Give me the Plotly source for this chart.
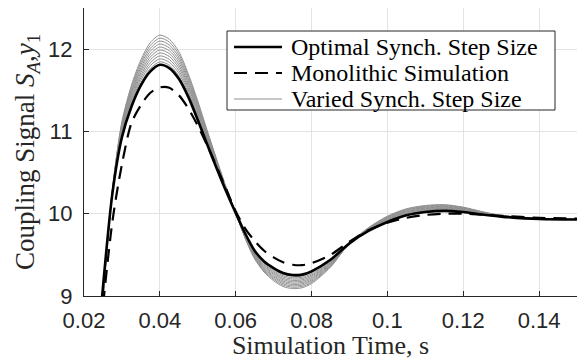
import plotly.graph_objects as go

# Sample instants (s)
time_s = [0.0245, 0.0275, 0.03, 0.0325, 0.035, 0.0375, 0.04, 0.0425, 0.045, 0.0475,
          0.05, 0.0525, 0.055, 0.0575, 0.06, 0.0625, 0.065, 0.0675, 0.07, 0.0725,
          0.075, 0.0775, 0.08, 0.085, 0.09, 0.095, 0.1, 0.105, 0.11, 0.115,
          0.12, 0.125, 0.13, 0.14, 0.15]

# Co-simulation with the optimal synchronisation step size
optimal_step = [8.85, 10.25, 10.93, 11.30, 11.56, 11.73, 11.81, 11.77, 11.64, 11.42,
                11.14, 10.84, 10.55, 10.27, 10.01, 9.76, 9.55, 9.42, 9.34, 9.28,
                9.255, 9.26, 9.30, 9.44, 9.64, 9.79, 9.90, 9.98, 10.02, 10.035,
                10.02, 9.99, 9.965, 9.935, 9.93]

# Monolithic reference simulation
monolithic = [8.65, 9.91, 10.6, 11.1, 11.32, 11.47, 11.535, 11.53, 11.44, 11.28,
              11.07, 10.83, 10.57, 10.3, 10.03, 9.82, 9.67, 9.55, 9.47, 9.41,
              9.38, 9.375, 9.40, 9.50, 9.66, 9.80, 9.89, 9.95, 9.985, 10.0,
              10.0, 9.99, 9.975, 9.95, 9.94]

# Runs with varied synchronisation step sizes
varied_1 = [8.827, 10.255, 10.949, 11.326, 11.591, 11.765, 11.846, 11.805, 11.673, 11.448,
            11.163, 10.857, 10.561, 10.275, 10.01, 9.754, 9.54, 9.407, 9.325, 9.264,
            9.239, 9.244, 9.285, 9.431, 9.64, 9.794, 9.907, 9.988, 10.028, 10.043,
            10.026, 9.994, 9.967, 9.936, 9.93]
varied_2 = [8.804, 10.26, 10.968, 11.352, 11.622, 11.80, 11.882, 11.84, 11.706, 11.476,
            11.186, 10.874, 10.572, 10.28, 10.01, 9.748, 9.53, 9.394, 9.309, 9.247,
            9.222, 9.228, 9.27, 9.422, 9.64, 9.798, 9.914, 9.996, 10.036, 10.05,
            10.032, 9.997, 9.968, 9.936, 9.93]
varied_3 = [8.781, 10.265, 10.987, 11.378, 11.653, 11.835, 11.918, 11.875, 11.739, 11.504,
            11.209, 10.891, 10.583, 10.285, 10.01, 9.742, 9.52, 9.381, 9.294, 9.231,
            9.206, 9.212, 9.255, 9.413, 9.64, 9.802, 9.921, 10.004, 10.044, 10.058,
            10.038, 10.001, 9.970, 9.937, 9.93]
varied_4 = [8.758, 10.27, 11.006, 11.404, 11.684, 11.87, 11.954, 11.91, 11.772, 11.532,
            11.232, 10.908, 10.594, 10.29, 10.01, 9.736, 9.51, 9.368, 9.278, 9.214,
            9.189, 9.196, 9.24, 9.404, 9.64, 9.806, 9.928, 10.012, 10.052, 10.065,
            10.044, 10.004, 9.971, 9.937, 9.93]
varied_5 = [8.735, 10.275, 11.025, 11.43, 11.715, 11.905, 11.99, 11.945, 11.805, 11.56,
            11.255, 10.925, 10.605, 10.295, 10.01, 9.73, 9.50, 9.355, 9.263, 9.198,
            9.173, 9.18, 9.225, 9.395, 9.64, 9.81, 9.935, 10.02, 10.06, 10.073,
            10.05, 10.008, 9.973, 9.938, 9.93]
varied_6 = [8.712, 10.28, 11.044, 11.456, 11.746, 11.94, 12.026, 11.98, 11.838, 11.588,
            11.278, 10.942, 10.616, 10.30, 10.01, 9.724, 9.49, 9.342, 9.247, 9.181,
            9.156, 9.164, 9.21, 9.386, 9.64, 9.814, 9.942, 10.028, 10.068, 10.08,
            10.056, 10.011, 9.974, 9.938, 9.93]
varied_7 = [8.689, 10.285, 11.063, 11.482, 11.777, 11.975, 12.062, 12.015, 11.871, 11.616,
            11.301, 10.959, 10.627, 10.305, 10.01, 9.718, 9.48, 9.329, 9.232, 9.165,
            9.14, 9.148, 9.195, 9.377, 9.64, 9.818, 9.949, 10.036, 10.076, 10.088,
            10.062, 10.015, 9.976, 9.939, 9.93]
varied_8 = [8.666, 10.29, 11.082, 11.508, 11.808, 12.01, 12.098, 12.05, 11.904, 11.644,
            11.324, 10.976, 10.638, 10.31, 10.01, 9.712, 9.47, 9.316, 9.216, 9.148,
            9.123, 9.132, 9.18, 9.368, 9.64, 9.822, 9.956, 10.044, 10.084, 10.095,
            10.068, 10.018, 9.977, 9.939, 9.93]
varied_9 = [8.643, 10.295, 11.101, 11.534, 11.839, 12.045, 12.134, 12.085, 11.937, 11.672,
            11.347, 10.993, 10.649, 10.315, 10.01, 9.706, 9.46, 9.303, 9.201, 9.132,
            9.107, 9.116, 9.165, 9.359, 9.64, 9.826, 9.963, 10.052, 10.092, 10.103,
            10.074, 10.022, 9.979, 9.94, 9.93]
varied_10 = [8.62, 10.30, 11.12, 11.56, 11.87, 12.08, 12.17, 12.12, 11.97, 11.70,
             11.37, 11.01, 10.66, 10.32, 10.01, 9.70, 9.45, 9.29, 9.185, 9.115,
             9.09, 9.10, 9.15, 9.35, 9.64, 9.83, 9.97, 10.06, 10.10, 10.11,
             10.08, 10.025, 9.98, 9.94, 9.93]

varied_runs = [varied_1, varied_2, varied_3, varied_4, varied_5,
               varied_6, varied_7, varied_8, varied_9, varied_10]

x_tick_vals = [0.02, 0.04, 0.06, 0.08, 0.1, 0.12, 0.14]
x_tick_text = ["0.02", "0.04", "0.06", "0.08", "0.1", "0.12", "0.14"]
y_tick_vals = [9, 10, 11, 12]
y_tick_text = ["9", "10", "11", "12"]

legend_labels = ["Optimal Synch. Step Size", "Monolithic Simulation", "Varied Synch. Step Size"]

SERIF = "Liberation Serif, Times New Roman, serif"
SANS = "Liberation Sans, Arial, sans-serif"
AXIS_COLOR = "#262626"
GRID_COLOR = "#e3e3e3"
GREY = "#8f8f8f"
DASH = "13px,8px"

fig = go.Figure()

# Grey family first so the reference curves sit on top
for run in varied_runs:
    fig.add_trace(go.Scatter(
        x=time_s, y=run, mode="lines", name=legend_labels[2], showlegend=False,
        line=dict(color=GREY, width=1.0, shape="spline", smoothing=0.8),
    ))
fig.add_trace(go.Scatter(
    x=time_s, y=monolithic, mode="lines", name=legend_labels[1], showlegend=False,
    line=dict(color="black", width=2.2, dash=DASH, shape="spline", smoothing=0.8),
))
fig.add_trace(go.Scatter(
    x=time_s, y=optimal_step, mode="lines", name=legend_labels[0], showlegend=False,
    line=dict(color="black", width=2.6, shape="spline", smoothing=0.8),
))

# Boxed legend in the upper right of the axes
W_PLOT, H_PLOT, L, T = 493.0, 288.0, 84.0, 8.0
def px_x(px):
    return (px - L) / W_PLOT
def px_y(py):
    return 1 - (py - T) / H_PLOT

shapes = [dict(type="rect", xref="paper", yref="paper",
               x0=px_x(227), x1=px_x(555), y0=px_y(110), y1=px_y(31),
               line=dict(color=AXIS_COLOR, width=1), fillcolor="white", layer="above")]
annotations = []
row_y = [47, 73, 99]
key_styles = [dict(color="black", width=2.6),
              dict(color="black", width=2.2, dash=DASH),
              dict(color=GREY, width=1.0)]
for label, ry, style in zip(legend_labels, row_y, key_styles):
    shapes.append(dict(type="line", xref="paper", yref="paper",
                       x0=px_x(234), x1=px_x(282), y0=px_y(ry), y1=px_y(ry),
                       line=style, layer="above"))
    annotations.append(dict(text=label, xref="paper", yref="paper",
                            x=px_x(289), y=px_y(ry), xanchor="left", yanchor="middle",
                            showarrow=False,
                            font=dict(family=SERIF, size=24, color="black")))

fig.update_layout(
    width=577, height=360,
    margin=dict(l=84, r=0, t=8, b=64),
    paper_bgcolor="white", plot_bgcolor="white",
    showlegend=False,
    shapes=shapes, annotations=annotations,
)

fig.update_xaxes(
    range=[0.02, 0.15], tickvals=x_tick_vals, ticktext=x_tick_text,
    ticks="inside", ticklen=5, tickcolor=AXIS_COLOR, tickwidth=1,
    showline=True, linecolor=AXIS_COLOR, linewidth=1.3, mirror=False,
    showgrid=True, gridcolor=GRID_COLOR, gridwidth=1, zeroline=False,
    tickfont=dict(family=SANS, size=22, color=AXIS_COLOR),
    ticklabelstandoff=4,
    title=dict(text="Simulation Time, s", font=dict(family=SERIF, size=26, color=AXIS_COLOR),
               standoff=5),
)
fig.update_yaxes(
    range=[9, 12.5], tickvals=y_tick_vals, ticktext=y_tick_text,
    ticks="inside", ticklen=5, tickcolor=AXIS_COLOR, tickwidth=1,
    showline=True, linecolor=AXIS_COLOR, linewidth=1.3, mirror=False,
    showgrid=True, gridcolor=GRID_COLOR, gridwidth=1, zeroline=False,
    tickfont=dict(family=SANS, size=22, color=AXIS_COLOR),
    ticklabelstandoff=6,
    title=dict(text="Coupling Signal <i>S</i><sub><i>A</i></sub>,<i>y</i><sub>1</sub>",
               font=dict(family=SERIF, size=27, color=AXIS_COLOR), standoff=5),
)

fig.write_html("out.html")
